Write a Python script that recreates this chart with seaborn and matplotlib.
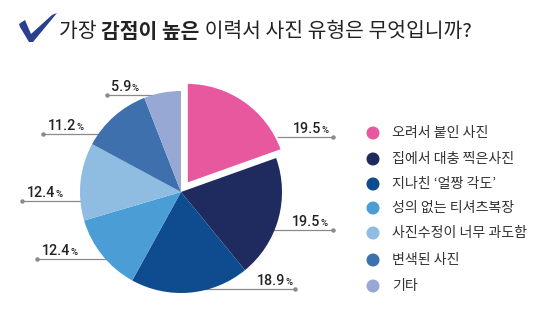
import matplotlib
matplotlib.use("Agg")
import matplotlib.pyplot as plt
import seaborn as sns
import numpy as np
from matplotlib.patches import Polygon, Circle

categories = ["오려서 붙인 사진", "집에서 대충 찍은사진", "지나친 ‘얼짱 각도’",
              "성의 없는 티셔츠복장", "사진수정이 너무 과도함", "변색된 사진", "기타"]
values = [19.5, 19.5, 18.9, 12.4, 12.4, 11.2, 5.9]
value_labels = ["19.5", "19.5", "18.9", "12.4", "12.4", "11.2", "5.9"]
colors = ["#E8589F", "#1F2B5E", "#0E4C8F", "#4A9ED5", "#8FBCE1", "#3F70AE", "#96A8D3"]

sns.set_theme(style="white")
plt.rcParams['font.family'] = ['Noto Sans CJK KR', 'DejaVu Sans']

W, H = 544, 323
fig = plt.figure(figsize=(W / 100, H / 100), dpi=100)
ax = fig.add_axes([0, 0, 1, 1])

def Y(y):
    return H - y

cx, cy, r = 181, 192, 101
explode = [10, 0, 0, 0, 0, 0, 0]
wedges, _ = ax.pie(values, colors=colors, startangle=90, counterclock=False,
                   center=(cx, Y(cy)), radius=r, explode=explode,
                   wedgeprops=dict(linewidth=0), frame=True)
wedges[0].set_edgecolor("white")
wedges[0].set_linewidth(1.5)
for w in wedges:
    w.set_zorder(3)
ax.set_xlim(0, W)
ax.set_ylim(0, H)
ax.set_aspect("auto")
ax.axis("off")

# leader-line layout (side, line y, end x, text x)
layout = [
    ("R", 137, 333, 293),
    ("R", 230, 333, 292),
    ("R", 289, 295, 257),
    ("L", 259, 37, 42),
    ("L", 201, 22, 27),
    ("L", 134, 43, 48),
    ("L", 95, 107, 111),
]
line_col = "#8a8a8a"
fig.canvas.draw()
renderer = fig.canvas.get_renderer()
for (side, ly, ex, tx), lab in zip(layout, value_labels):
    dy = ly - cy
    edge = np.sqrt(max(r * r - dy * dy, 0))
    sx = cx + edge - 6 if side == "R" else cx - edge + 6
    ax.plot([sx, ex], [Y(ly), Y(ly)], color=line_col, lw=0.9, zorder=1,
            solid_capstyle="butt")
    ax.plot([ex], [Y(ly)], marker="o", ms=2.2, color=line_col, zorder=1)
    t = ax.text(tx, Y(ly - 4), lab, fontsize=10.3, fontweight="medium",
                family="Roboto", color="#222222", ha="left", va="baseline")
    bb = t.get_window_extent(renderer)
    ax.text(bb.x1 + 0.3, Y(ly - 4), "%", fontsize=6.8, fontweight="medium",
            family="Roboto", color="#222222", ha="left", va="baseline")

# legend
leg_y = [133, 159, 184, 208, 233, 260, 286]
for cat, col, ly in zip(categories, colors, leg_y):
    ax.add_patch(Circle((373, Y(ly)), 5.8, color=col, zorder=3))
    ax.text(392, Y(ly), cat, fontsize=10.1, color="#333333", ha="left",
            va="center")

# title with check mark
check = [(19, 24), (25, 20), (31, 34), (52, 15), (57, 13), (33, 42), (29, 42), (20, 27)]
ax.add_patch(Polygon([(x, Y(y)) for x, y in check], closed=True,
                     color="#2A3F8E", zorder=3, lw=0))
parts = [("가장 ", "normal"), ("감점이 높은", "bold"),
         (" 이력서 사진 유형은 무엇입니까?", "normal")]
x = 59
for txt, wt in parts:
    t = ax.text(x, Y(31.5), txt, fontsize=14.7, fontweight=wt, color="#222222",
                ha="left", va="center")
    bb = t.get_window_extent(renderer)
    x = bb.x1

fig.savefig("out.png", dpi=100)
